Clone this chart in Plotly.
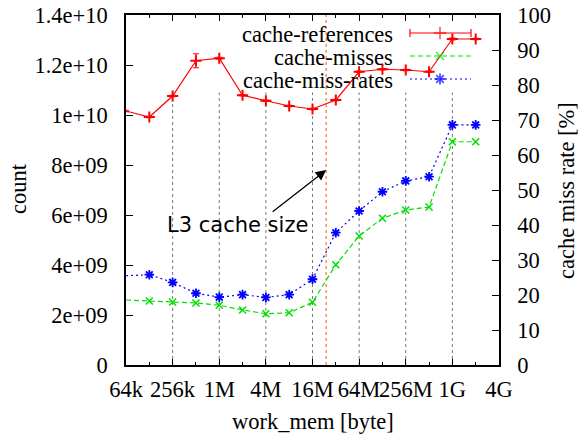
import math
import plotly.graph_objects as go

# ---- data ----
work_mem = [65536 * 2 ** i for i in range(16)]  # 64k .. 2G bytes
cache_references = [10.16e9, 9.92e9, 10.76e9, 12.17e9, 12.27e9, 10.79e9, 10.57e9, 10.36e9,
                    10.24e9, 10.60e9, 11.73e9, 11.83e9, 11.80e9, 11.73e9, 13.04e9, 13.04e9]
cache_references_err = [0.03e9, 0.03e9, 0.03e9, 0.28e9, 0.04e9, 0.03e9, 0.03e9, 0.03e9,
                        0.03e9, 0.03e9, 0.03e9, 0.03e9, 0.03e9, 0.03e9, 0.04e9, 0.03e9]
cache_misses = [2.60e9, 2.56e9, 2.52e9, 2.48e9, 2.39e9, 2.20e9, 2.05e9, 2.09e9,
                2.51e9, 4.01e9, 5.16e9, 5.87e9, 6.20e9, 6.32e9, 8.93e9, 8.93e9]
cache_miss_rates = [25.5, 25.8, 23.6, 20.5, 19.4, 20.1, 19.3, 20.1,
                    24.5, 37.8, 44.0, 49.5, 52.6, 53.8, 68.6, 68.6]

x_tickvals = [65536 * 4 ** i for i in range(9)]
x_ticktext = ["64k", "256k", "1M", "4M", "16M", "64M", "256M", "1G", "4G"]
x_minorvals = [131072 * 4 ** i for i in range(8)]
y_tickvals = [0, 2e9, 4e9, 6e9, 8e9, 1e10, 1.2e10, 1.4e10]
y_ticktext = ["0", "2e+09", "4e+09", "6e+09", "8e+09", "1e+10", "1.2e+10", "1.4e+10"]
y2_tickvals = list(range(0, 101, 10))
l3_cache_size = 24 * 2 ** 20
series_names = ["cache-references", "cache-misses", "cache-miss-rates"]

RED = "#ff0000"
GREEN = "#00e000"
BLUE = "#0000ff"
SERIF = "Liberation Serif"
FS = 22.5

fig = go.Figure()

fig.add_trace(go.Scatter(
    x=work_mem, y=cache_references, mode="lines+markers", name=series_names[0],
    line=dict(color=RED, width=1.2),
    marker=dict(symbol="cross-thin", size=8, line=dict(color=RED, width=2), color=RED),
    error_y=dict(type="data", array=cache_references_err, width=3, thickness=1.2, color=RED),
    cliponaxis=False, showlegend=False))
fig.add_trace(go.Scatter(
    x=work_mem, y=cache_misses, mode="lines+markers", name=series_names[1],
    line=dict(color=GREEN, width=1.2, dash="5px,3px"),
    marker=dict(symbol="x-thin", size=7, line=dict(color=GREEN, width=1.5), color=GREEN),
    cliponaxis=False, showlegend=False))
fig.add_trace(go.Scatter(
    x=work_mem, y=cache_miss_rates, mode="lines+markers", name=series_names[2], yaxis="y2",
    line=dict(color=BLUE, width=1.2, dash="2px,3px"),
    marker=dict(symbol="asterisk", size=8, line=dict(color=BLUE, width=1.8), color=BLUE),
    cliponaxis=False, showlegend=False))

# ---- gnuplot-style key (text left, sample right), on hidden unit axes ----
key_y = [0.9486, 0.8829, 0.8171]
key_x = [0.7614, 0.8418, 0.9249]
key_text_x = 0.7212
styles = [
    dict(line=dict(color=RED, width=1.2),
         marker=dict(symbol="cross-thin", size=[0, 9, 0], line=dict(color=RED, width=1.5), color=RED),
         error_y=dict(type="data", array=[4 / 350, 0, 4 / 350], width=0, thickness=1.2, color=RED)),
    dict(line=dict(color=GREEN, width=1.2, dash="5px,3px"),
         marker=dict(symbol="x-thin", size=[0, 8, 0], line=dict(color=GREEN, width=1.5), color=GREEN)),
    dict(line=dict(color=BLUE, width=1.2, dash="2px,3px"),
         marker=dict(symbol="asterisk", size=[0, 9, 0], line=dict(color=BLUE, width=1.8), color=BLUE)),
]
for name, yy, st in zip(series_names, key_y, styles):
    fig.add_trace(go.Scatter(x=key_x, y=[yy] * 3, mode="lines+markers", xaxis="x3", yaxis="y3",
                             showlegend=False, hoverinfo="skip", cliponaxis=False, **st))
    fig.add_annotation(xref="paper", yref="paper", x=key_text_x, y=yy - 0.004, text=name,
                       showarrow=False, xanchor="right", yanchor="middle",
                       font=dict(family=SERIF, size=FS, color="black"))

# ---- vertical grid lines at major ticks (below the key) ----
for v in x_tickvals[1:-1]:
    fig.add_shape(type="line", xref="x", yref="y", x0=v, x1=v, y0=0, y1=1.09e10,
                  line=dict(color="#777777", width=1, dash="dot"), layer="below")

# ---- L3 cache size marker ----
fig.add_shape(type="line", xref="x", yref="paper", x0=l3_cache_size, x1=l3_cache_size, y0=0, y1=1,
              line=dict(color="#ff5500", width=1, dash="dot"), layer="below")
fig.add_annotation(xref="x", yref="y", x=math.log10(l3_cache_size), y=7.8e9, text="",
                   showarrow=True, ax=-55, ay=43, arrowhead=2, arrowsize=1.6, arrowwidth=1.3,
                   arrowcolor="black", standoff=0)
fig.add_annotation(xref="paper", yref="paper", x=0.1046, y=0.40, text="L3 cache size",
                   showarrow=False, xanchor="left", yanchor="middle",
                   font=dict(family="DejaVu Sans", size=21, color="black"))

# ---- axis titles ----
fig.add_annotation(xref="paper", yref="paper", x=(313 - 126) / 373, y=(365 - 421) / 350,
                   text="work_mem [byte]", showarrow=False, xanchor="center", yanchor="middle",
                   font=dict(family=SERIF, size=FS, color="black"))
fig.add_annotation(xref="paper", yref="paper", x=(18 - 126) / 373, y=(365 - 188) / 350,
                   text="count", showarrow=False, xanchor="center", yanchor="middle", textangle=-90,
                   font=dict(family=SERIF, size=FS, color="black"))
fig.add_annotation(xref="paper", yref="paper", x=(566 - 126) / 373, y=(365 - 191) / 350,
                   text="cache miss rate [%]", showarrow=False, xanchor="center", yanchor="middle",
                   textangle=-90, font=dict(family=SERIF, size=FS, color="black"))

tickfont = dict(family=SERIF, size=FS, color="black")
fig.update_layout(
    width=581, height=436,
    margin=dict(l=126, r=82, t=15, b=71, pad=0),
    paper_bgcolor="white", plot_bgcolor="white",
    xaxis=dict(type="log", range=[math.log10(65536), math.log10(4 * 2 ** 30)],
               tickvals=x_tickvals, ticktext=x_ticktext, tickangle=0, ticks="inside", ticklen=6,
               tickwidth=1, tickcolor="black", showline=True, linecolor="black", linewidth=1.5,
               mirror="ticks", showgrid=False, zeroline=False, tickfont=tickfont,
               ticklabelstandoff=3, automargin=False,
               minor=dict(tickvals=x_minorvals, ticks="inside", ticklen=3, tickwidth=1,
                          tickcolor="black", showgrid=False)),
    yaxis=dict(range=[0, 1.4e10], tickvals=y_tickvals, ticktext=y_ticktext, ticks="inside",
               ticklen=7, tickwidth=1, tickcolor="black", showline=True, linecolor="black",
               linewidth=1.5, showgrid=False, zeroline=False, tickfont=tickfont,
               ticklabelstandoff=12, automargin=False),
    yaxis2=dict(range=[0, 100], tickvals=y2_tickvals, overlaying="y", side="right",
                ticks="inside", ticklen=7, tickwidth=1, tickcolor="black", showline=True,
                linecolor="black", linewidth=1.5, showgrid=False, zeroline=False,
                tickfont=tickfont, ticklabelstandoff=12, automargin=False),
    xaxis3=dict(overlaying="x", range=[0, 1], visible=False, automargin=False),
    yaxis3=dict(overlaying="y", range=[0, 1], visible=False, automargin=False),
    showlegend=False,
)

fig.write_html("out.html")
